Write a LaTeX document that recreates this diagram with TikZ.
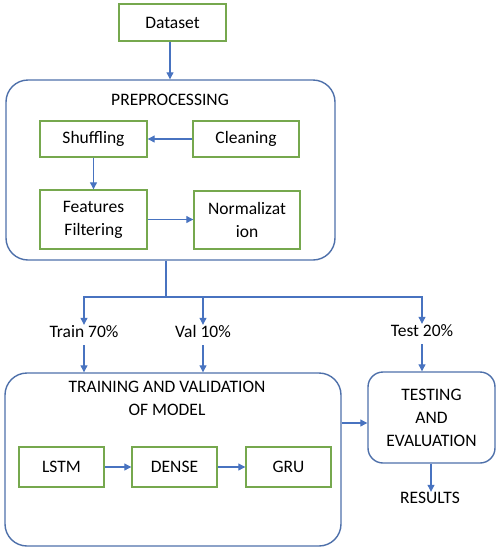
\documentclass[tikz,border=0pt]{standalone}
\usepackage{fontspec}
\setmainfont{Carlito}
\usetikzlibrary{arrows.meta,calc}
\definecolor{gbox}{RGB}{118,168,78}
\definecolor{bframe}{RGB}{78,112,170}
\definecolor{barrow}{RGB}{72,115,192}
\tikzset{
  every node/.style={font=\fontsize{17.5}{23}\selectfont, text=black},
  gbox/.style={draw=gbox, line width=1.4pt, inner sep=0pt, align=center},
  rbox/.style={draw=bframe, line width=1.4pt, inner sep=0pt, rounded corners=22pt},
  arr/.style={draw=barrow, line width=1.1pt, -{Triangle[width=7pt,length=7pt]}},
  ln/.style={draw=barrow, line width=1.1pt},
  lbl/.style={inner sep=0pt, text height=11pt, text depth=3pt}
}
\begin{document}
\begin{tikzpicture}[x=1pt,y=-1pt]
\useasboundingbox (0,0) rectangle (501,550);
% top
\node[gbox, minimum width=107pt, minimum height=37pt] (ds) at (172.5,22.5) {Dataset};
\node[rbox, minimum width=329pt, minimum height=180pt] (pre) at (170.5,170) {};
\node (pretitle) at (170,100) {PREPROCESSING};
\node[gbox, minimum width=107pt, minimum height=36pt] (shuf) at (93.5,139) {Shuffling};
\node[gbox, minimum width=106pt, minimum height=36pt] (clean) at (246,139) {Cleaning};
\node[gbox, minimum width=107pt, minimum height=59pt] (feat) at (93.5,219.5) {Features\\Filtering};
\node[gbox, minimum width=106pt, minimum height=58pt] (norm) at (247,220) {Normalizat\\ion};
\draw[arr] (ds.south -| 170,0) -- (pre.north -| 170,0);
\draw[arr] (clean) -- (shuf);
\draw[arr] (shuf) -- (feat);
\draw[arr] (feat) -- (norm.west |- feat);
% split
\coordinate (split) at (166,297);
\node[lbl] (trl) at (84,333) {Train 70\%};
\node[lbl] (vall) at (203,333) {Val 10\%};
\node[lbl] (tel) at (422,332) {Test 20\%};
\draw[ln] (pre.south -| split) -- (split);
\draw[arr, shorten >=1pt] (split) -| (trl.north);
\draw[arr, shorten >=1pt] (split) -| (vall.north);
\draw[arr, shorten >=1pt] (split) -| (tel.north);
% training
\node[rbox, minimum width=336pt, minimum height=173pt] (tv) at (173,459.5) {};
\node[align=center] (tvtitle) at (167,398) {TRAINING AND VALIDATION\\OF MODEL};
\node[gbox, minimum width=85pt, minimum height=40pt] (lstm) at (61.5,467) {LSTM};
\node[gbox, minimum width=85pt, minimum height=40pt] (dense) at (174.5,467) {DENSE};
\node[gbox, minimum width=85pt, minimum height=40pt] (gru) at (288.5,467) {GRU};
\draw[arr] (lstm) -- (dense);
\draw[arr] (dense) -- (gru);
\draw[arr, shorten <=5pt] (trl.south) -- (trl.south |- tv.north);
\draw[arr, shorten <=5pt] (vall.south) -- (vall.south |- tv.north);
% testing
\node[rbox, rounded corners=15pt, minimum width=127pt, minimum height=91pt, align=center] (test) at (431.5,417.5) {TESTING\\AND\\EVALUATION};
\draw[arr, shorten <=5pt] (tel.south) -- (tel.south |- test.north);
\draw[arr] (tv.east |- 0,423) -- (test.west |- 0,423);
\node[lbl] (res) at (430,499) {RESULTS};
\draw[arr] (test.south -| 431,0) -- (res.north -| 431,0);
\end{tikzpicture}
\end{document}
